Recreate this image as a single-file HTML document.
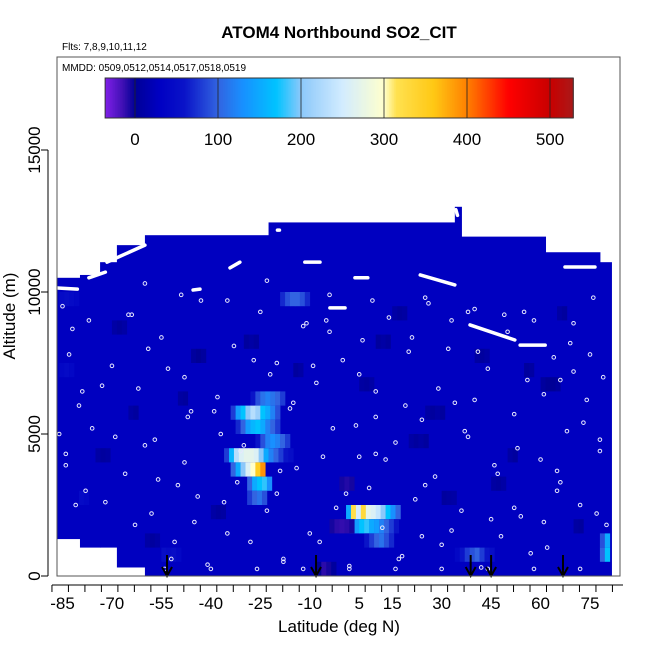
<!DOCTYPE html>
<html><head><meta charset="utf-8"><style>
body{margin:0;background:#fff;}
svg{display:block;font-family:"Liberation Sans",sans-serif;}
</style></head><body>
<svg id="chart" width="650" height="650" viewBox="0 0 650 650">
<defs><clipPath id="plotclip"><rect x="57" y="57" width="563" height="519"/></clipPath></defs>
<text x="339" y="38" text-anchor="middle" font-size="17" font-weight="bold">ATOM4 Northbound SO2_CIT</text>
<text x="62" y="50" font-size="10">Flts: 7,8,9,10,11,12</text>
<g id="heat" clip-path="url(#plotclip)"></g>
<g id="tracks" clip-path="url(#plotclip)"></g>
<g id="dots" clip-path="url(#plotclip)"></g>
<g id="arrows"></g>
<rect x="57" y="57" width="563" height="519" fill="none" stroke="#555" stroke-width="1"/>
<text x="62" y="71" font-size="10">MMDD: 0509,0512,0514,0517,0518,0519</text>
<g id="cbar"></g>
<g id="xaxis"></g>
<g id="yaxis"></g>
<text x="339" y="632" text-anchor="middle" font-size="17">Latitude (deg N)</text>
<text transform="translate(15,316) rotate(-90)" text-anchor="middle" font-size="17">Altitude (m)</text>
</svg>
<script>
// ---- data ----
const segLat0 = [-87,-79.7,-73.6,-68.5,-60,-22.5,34,36,61.5,78];
const segLat1 = [-79.7,-73.6,-68.5,-60,-22.5,34,36,61.5,78,81.5];
const segTop  = [10500,10600,11050,11650,12000,12450,13000,11950,11400,11050];
const segBot  = [1300,1000,1000,300,0,0,0,0,0,0];
const baseValue = 28;
// hotspot rows: start lat, row base altitude, values per 1.5-deg sub-bin
const hotLat0 = [-28,-34,-32.5,-26.5,-36,-34,-29,-29,1,2,6.5,-19,78,78,34,-4,-1,-46,60,-60,-8,20,-86,-70,-50,-40,10,25,45,55,65,-86,-75,-15,5,30,50,-55,-30,70,-80,15,-65,40];
const hotAlt  = [6000,5500,5000,4500,4000,3500,3000,2500,2000,1500,1000,9500,500,1000,500,1500,3000,7500,6500,1000,0,4500,9500,8500,6000,2000,8000,5500,3000,7000,9000,7000,4000,7000,6500,2500,4000,500,8000,1500,2500,9000,5500,7500];
const hotVals = [
 [60,90,110,120,110,100,80],
 [80,140,170,200,230,210,170,150,120,90],
 [70,100,140,160,170,150,120,100,80],
 [60,90,120,130,120,100,80],
 [80,160,230,260,270,270,260,200,150,120,100,80,60,50],
 [100,150,200,260,300,350,390],
 [100,150,170,180,130],
 [80,100,110,90],
 [150,320,250,330,270,260,240,200,170,130,100],
 [100,140,170,180,150,140,120,100,80,60],
 [60,80,100,110,90,70],
 [70,90,100,100,90,70],
 [100,170],
 [90,150],
 [40,60,80,90,100,80,60,50],
 [-5,-10,-12,-10,-5],
 [-5,-8,-5],
 [5,0,5],
 [5,0,0,5],
 [10,5,10],
 [0,-10,-5,5],
 [10,5,10,5],
 [45,50,45,40],
 [10,5,10],
 [8,5],
 [10,5,8],
 [5,10,5],
 [10,5,10,5],
 [8,5,10],
 [5,8],
 [10,5],
 [40,45,40],
 [10,5,8],
 [5,10],
 [8,5,10],
 [5,8,10],
 [10,5],
 [50,45,50,40],
 [5,10,5],
 [8,5],
 [45,40],
 [10,5,8],
 [10,5],
 [8,5,10]
];
const cbTicks = [0,100,200,300,400,500];
const yTicks = [0,5000,10000,15000];
const xTicks = [-85,-70,-55,-40,-25,-10,5,15,30,45,60,75];
const arrowLats = [-53.3,-8.1,38.8,45,66.8];
const trackLat0 = [-86.5,-77,-71.5,-45.4,-34.2,-19.8,-11.5,-3.9,3.7,23.5,38.6,53.8,67.4,34.3];
const trackLat1 = [-80.5,-72,-60,-43.3,-31.2,-19.2,-6.9,0.7,7.6,34,52.2,61.4,76.5,34.8];
const trackAlt0 = [10140,10500,11050,10070,10850,12180,11050,9440,10500,10600,8840,8130,10880,12900];
const trackAlt1 = [10100,10700,11650,10100,11050,12180,11050,9440,10500,10250,8310,8130,10880,12700];
const dotLat = [-85,-83,-80,-84,-78,-82,-76,-70,-66,-64,-62,-58,-57,-55,-52,-50,-48,-47,-45,-43,-41,-38,-36,-33,-30,-28,-25,-22,-20,-18,-16,-14,-12,-10,-8,-6,-4,-2,0,2,4,6,8,10,12,14,16,18,20,22,24,26,28,30,32,34,36,38,40,42,44,46,48,50,52,54,56,58,60,62,64,66,68,70,72,74,76,78,80,-54,-40,-26,-12,2,16,30,44,58,72,-60,-35,-5,25,55,70,-48,-20,10,40,65,
 -86,-81,-77,-73,-69,-63,-59,-56,-53,-49,-44,-39,-35,-31,-27,-23,-19,-15,-11,-7,-3,1,5,9,13,17,21,25,29,33,37,41,45,49,53,57,61,65,69,73,77,79,-84,-72,-60,-46,-32,-18,-4,10,24,38,52,66,78,-79,-65,-51,-37,-23,-9,5,19,33,47,61,75];
const dotAlt = [9500,7800,6000,4300,3000,8700,5200,7400,3600,9200,6600,2200,4800,8400,600,3200,7000,5600,1900,9700,400,6300,2600,8100,4600,1200,9300,7100,2900,500,5900,3800,8800,1500,6800,4200,9900,2400,7600,350,5300,8300,3100,6500,1700,9100,4700,700,7900,2700,5500,9600,3500,1100,8000,6100,2300,4900,9400,300,7300,3900,1400,8600,5700,2100,6900,9000,4100,1000,7700,3300,5100,8900,2500,6200,9800,4400,1800,250,250,250,250,250,250,250,250,250,250,10300,9700,9000,9800,9300,7200,4000,7500,4300,6200,3700,
 5000,2500,9000,6700,4900,1800,8000,3400,7300,9900,2800,5800,1500,4400,7600,10400,3700,6100,8900,1200,5200,2900,7100,9700,4100,600,8400,3200,6600,1600,5100,7900,2000,9200,4500,800,6400,3000,8200,5400,2200,7000,3900,2600,4600,5800,3300,600,8600,5600,1400,9300,2400,6900,4800,6500,9200,1200,5000,2300,7400,4200,6000,9000,3600,1900,7800];

// ---- scales ----
const X = lat => 62.5 + (lat + 85) * 3.297;
const Y = alt => 576 - alt * 0.0284;
const cStops = [[-36,[128,32,232]],[-15,[64,16,180]],[0,[0,0,150]],[30,[0,0,195]],[60,[10,20,200]],[100,[50,100,225]],[130,[24,144,255]],[170,[0,195,255]],[200,[140,200,250]],[250,[210,236,255]],[300,[255,255,205]],[315,[255,225,80]],[360,[255,200,20]],[400,[255,128,0]],[450,[255,0,0]],[500,[200,0,0]],[528,[170,25,25]]];
function col(v){
  if(v<=cStops[0][0]) return 'rgb('+cStops[0][1]+')';
  for(let i=1;i<cStops.length;i++){
    if(v<=cStops[i][0]){
      const a=cStops[i-1],b=cStops[i],t=(v-a[0])/(b[0]-a[0]);
      return 'rgb('+a[1].map((c,k)=>Math.round(c+(b[1][k]-c)*t)).join(',')+')';
    }
  }
  return 'rgb('+cStops[cStops.length-1][1]+')';
}
const NS='http://www.w3.org/2000/svg';
function mk(tag,attrs,parent){const e=document.createElementNS(NS,tag);for(const k in attrs)e.setAttribute(k,attrs[k]);parent.appendChild(e);return e;}

// ---- heatmap ----
const heat=document.getElementById('heat');
segLat0.forEach((l0,i)=>{
  const r=mk('rect',{x:X(l0),y:Y(segTop[i]),width:X(segLat1[i])-X(l0)+0.5,height:Y(segBot[i])-Y(segTop[i]),fill:col(baseValue)},heat);
  
  
});
hotLat0.forEach((l0,i)=>{
  hotVals[i].forEach((v,j)=>{
    const la=l0+j*1.5;
    const r=mk('rect',{x:X(la),y:Y(hotAlt[i]+500),width:X(la+1.5)-X(la)+0.3,height:Y(hotAlt[i])-Y(hotAlt[i]+500),fill:col(v)},heat);
    
    
  });
});

// ---- tracks & dots ----
const tr=document.getElementById('tracks');
trackLat0.forEach((l0,i)=>{
  const p=mk('line',{x1:X(l0),y1:Y(trackAlt0[i]),x2:X(trackLat1[i]),y2:Y(trackAlt1[i]),stroke:'#fff','stroke-width':3.5,'stroke-linecap':'round'},tr);
  
  
});
const dg=document.getElementById('dots');
dotLat.forEach((l,i)=>{
  const c=mk('circle',{cx:X(l),cy:Y(dotAlt[i]),r:1.8,fill:'none',stroke:'#e8e8ff','stroke-width':1},dg);
  
  
});

// ---- arrows ----
const ag=document.getElementById('arrows');
arrowLats.forEach(l=>{
  const g=mk('g',{},ag);
  
  
  mk('line',{x1:X(l),y1:555,x2:X(l),y2:574,stroke:'#000','stroke-width':2},g);
  mk('path',{d:`M${X(l)-5},567 L${X(l)},576 L${X(l)+5},567`,fill:'none',stroke:'#000','stroke-width':2},g);
});

// ---- colorbar ----
const cb=document.getElementById('cbar');
const CBX=v=>135+v*0.83;
for(let v=-36;v<528;v+=2){
  mk('rect',{x:CBX(v),y:78,width:2.2,height:40,fill:col(v+1)},cb);
}
mk('rect',{x:CBX(-36),y:78,width:CBX(528)-CBX(-36),height:40,fill:'none',stroke:'#333','stroke-width':1},cb);
cbTicks.forEach(t=>{
  mk('line',{x1:CBX(t),y1:78,x2:CBX(t),y2:118,stroke:'#222','stroke-width':0.8},cb);
  const tx=mk('text',{x:CBX(t),y:145,'text-anchor':'middle','font-size':17},cb);
  tx.textContent=t;
  
  
});

// ---- axes ----
const xa=document.getElementById('xaxis');
mk('line',{x1:52,y1:585,x2:623,y2:585,stroke:'#000','stroke-width':1},xa);
for(let i=0;i<35;i++){
  const l=-88.2+i*5;
  mk('line',{x1:X(l),y1:585,x2:X(l),y2:592,stroke:'#000','stroke-width':1},xa);
}
xTicks.forEach(t=>{
  const tx=mk('text',{x:X(t),y:609,'text-anchor':'middle','font-size':17},xa);
  tx.textContent=t;
  
  
});
const ya=document.getElementById('yaxis');
mk('line',{x1:48,y1:Y(0),x2:48,y2:Y(15000),stroke:'#000','stroke-width':1},ya);
yTicks.forEach(t=>{
  mk('line',{x1:41,y1:Y(t),x2:48,y2:Y(t),stroke:'#000','stroke-width':1},ya);
  const tx=mk('text',{transform:`translate(40,${Y(t)}) rotate(-90)`,'text-anchor':'middle','font-size':17},ya);
  tx.textContent=t;
  
  
});
</script>
</body></html>
